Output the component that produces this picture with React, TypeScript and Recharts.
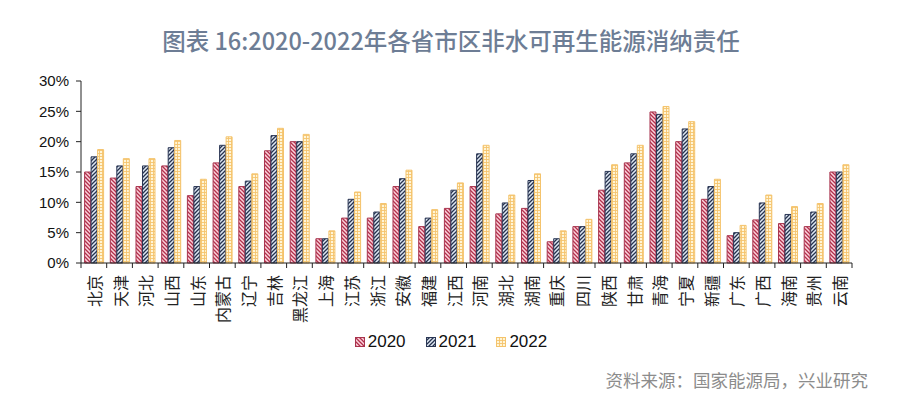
import React from 'react';
import { BarChart, Bar, XAxis, YAxis } from 'recharts';

const provinces = [
  '北京', '天津', '河北', '山西', '山东', '内蒙古', '辽宁', '吉林', '黑龙江', '上海',
  '江苏', '浙江', '安徽', '福建', '江西', '河南', '湖北', '湖南', '重庆', '四川',
  '陕西', '甘肃', '青海', '宁夏', '新疆', '广东', '广西', '海南', '贵州', '云南',
];
// 非水可再生能源消纳责任权重, %
const y2020 = [15.0, 14.0, 12.6, 16.0, 11.1, 16.5, 12.6, 18.5, 20.0, 4.0,
  7.4, 7.4, 12.6, 6.0, 9.0, 12.6, 8.1, 9.0, 3.5, 6.0,
  12.0, 16.5, 24.9, 20.0, 10.5, 4.5, 7.1, 6.5, 6.0, 15.0];
const y2021 = [17.5, 16.0, 16.0, 19.0, 12.6, 19.4, 13.5, 21.0, 20.0, 4.0,
  10.5, 8.4, 13.9, 7.4, 12.0, 18.0, 9.9, 13.6, 4.0, 6.0,
  15.1, 18.0, 24.5, 22.1, 12.6, 5.0, 9.9, 8.0, 8.4, 15.0];
const y2022 = [18.7, 17.2, 17.2, 20.2, 13.8, 20.8, 14.7, 22.2, 21.2, 5.3,
  11.7, 9.8, 15.3, 8.8, 13.2, 19.4, 11.2, 14.7, 5.3, 7.2,
  16.2, 19.4, 25.8, 23.3, 13.8, 6.2, 11.2, 9.3, 9.8, 16.2];
const yTicks = [0, 5, 10, 15, 20, 25, 30];
const years = ['2020', '2021', '2022'];

const data = provinces.map((p, i) => ({ name: p, v2020: y2020[i], v2021: y2021[i], v2022: y2022[i] }));

const W = 902;
const H = 396;
const M = { top: 81, right: 50, left: 36, bottom: 73 };
const Y_W = 45;
const PLOT_W = W - M.left - M.right - Y_W;
const STEP = PLOT_W / provinces.length;

const styles: Record<string, { bg: string; line: string; border: string }> = {
  '2020': { bg: '#fbd3dc', line: '#b3304c', border: '#a8344e' },
  '2021': { bg: '#dfe8f3', line: '#26324e', border: '#2a3654' },
  '2022': { bg: '#fff5d6', line: '#f5c46e', border: '#f4c36c' },
};

function Patterns({ prefix }: { prefix: string }) {
  return (
    <defs>
      <pattern id={`${prefix}2020`} patternUnits="userSpaceOnUse" width="4" height="4">
        <rect width="4" height="4" fill={styles['2020'].bg} />
        <path d="M0,0 L4,4 M-1,3 L1,5 M3,-1 L5,1" stroke={styles['2020'].line} strokeWidth="1.3" />
      </pattern>
      <pattern id={`${prefix}2021`} patternUnits="userSpaceOnUse" width="4" height="4">
        <rect width="4" height="4" fill={styles['2021'].bg} />
        <path d="M0,4 L4,0 M-1,1 L1,-1 M3,5 L5,3" stroke={styles['2021'].line} strokeWidth="1.3" />
      </pattern>
      <pattern id={`${prefix}2022`} patternUnits="userSpaceOnUse" width="3" height="3">
        <rect width="3" height="3" fill={styles['2022'].bg} />
        <path d="M0,0.5 L3,0.5 M0.5,0 L0.5,3" stroke={styles['2022'].line} strokeWidth="0.9" />
      </pattern>
    </defs>
  );
}

function XTick(props: any) {
  const { x, y, payload, index } = props;
  const left = x - STEP / 2;
  return (
    <g>
      <line x1={left} y1={y - 6} x2={left} y2={y - 1} stroke="#222" />
      {index === provinces.length - 1 && (
        <line x1={x + STEP / 2} y1={y - 6} x2={x + STEP / 2} y2={y - 1} stroke="#222" />
      )}
      <text
        x={x}
        y={y + 6}
        transform={`rotate(-90, ${x}, ${y + 6})`}
        textAnchor="end"
        dominantBaseline="central"
        fontSize={16}
        fontFamily="'Noto Sans CJK SC'"
        fill="#222"
      >
        {payload.value}
      </text>
    </g>
  );
}

function LegendBox() {
  return (
    <div
      style={{
        position: 'absolute', left: 0, top: 331, width: W, display: 'flex', justifyContent: 'center', gap: 20,
        fontFamily: "'Liberation Sans', Arial", fontSize: 17, color: '#111', lineHeight: '22px',
      }}
    >
      {years.map((yr) => (
        <div key={yr} style={{ display: 'flex', alignItems: 'center', gap: 3 }}>
          <svg width={10} height={10}>
            <Patterns prefix={`lg${yr}`} />
            <rect x={0.5} y={0.5} width={9} height={9} fill={`url(#lg${yr}${yr})`} stroke={styles[yr].border} />
          </svg>
          <span>{yr}</span>
        </div>
      ))}
    </div>
  );
}

export default function App() {
  return (
    <div style={{ position: 'absolute', left: 0, top: 0, width: W, height: H, background: '#fff' }}>
      <div
        style={{
          position: 'absolute', left: 0, top: 24, width: W, textAlign: 'center',
          fontFamily: "'Noto Sans CJK SC'", fontSize: 23.5, fontWeight: 500, color: '#6d7d95', lineHeight: '32px',
        }}
      >
        图表 16:2020-2022年各省市区非水可再生能源消纳责任
      </div>
      <BarChart width={W} height={H} data={data} margin={M} barCategoryGap="14%" barGap={0.5}>
        <Patterns prefix="p" />
        <XAxis
          dataKey="name"
          interval={0}
          tickLine={false}
          axisLine={{ stroke: '#222' }}
          tick={<XTick />}
          tickMargin={0}
          height={60}
        />
        <YAxis
          width={Y_W}
          domain={[0, 30]}
          ticks={yTicks}
          tickFormatter={(v: number) => `${v}%`}
          tick={{ fontSize: 15, fill: '#111', fontFamily: "'Liberation Sans', Arial" }}
          tickLine={{ stroke: '#222' }}
          axisLine={{ stroke: '#222' }}
          tickSize={5}
          tickMargin={7}
        />
        {years.map((yr) => (
          <Bar
            key={yr}
            dataKey={`v${yr}`}
            name={yr}
            fill={`url(#p${yr})`}
            stroke={styles[yr].border}
            strokeWidth={1}
            isAnimationActive={false}
          />
        ))}
      </BarChart>
      <LegendBox />
      <div
        style={{
          position: 'absolute', right: 34, top: 368, fontFamily: "'Noto Sans CJK SC'", fontSize: 17.5,
          color: '#8c8c8c', lineHeight: '24px',
        }}
      >
        资料来源：国家能源局，兴业研究
      </div>
    </div>
  );
}
